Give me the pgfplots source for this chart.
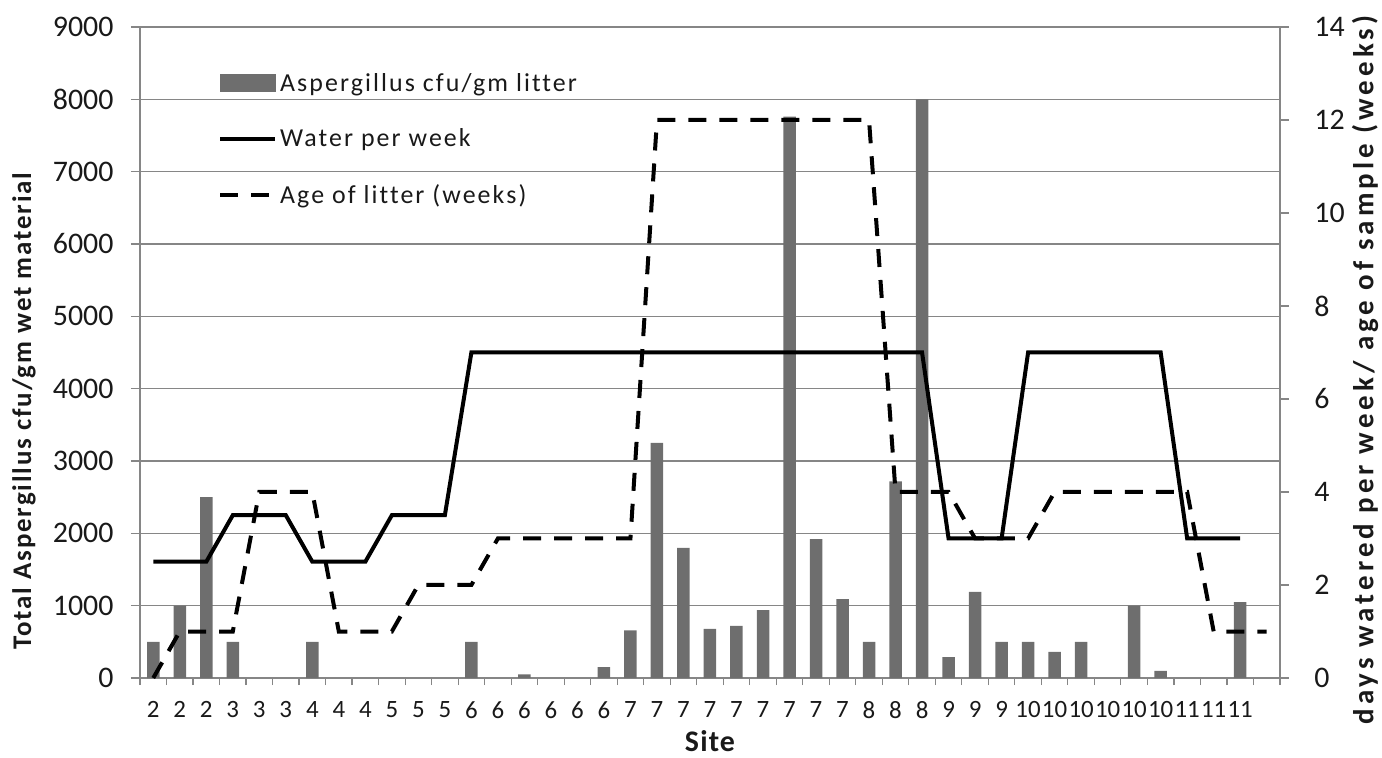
\documentclass[border=0pt]{standalone}
\usepackage{pgfplots}
\pgfplotsset{compat=1.18}
\usepackage{fontspec}
\setmainfont{Carlito}
\newfontfamily\legfont[LetterSpace=8,Ligatures=NoCommon]{Carlito}
\newfontfamily\lablfont[LetterSpace=7]{Carlito}
\newfontfamily\labrfont[LetterSpace=14]{Carlito}
\newfontfamily\sitefont[LetterSpace=4]{Carlito}
\definecolor{bargray}{RGB}{110,110,110}
\definecolor{gridgray}{RGB}{134,134,134}
\definecolor{txt}{RGB}{25,25,25}
\pgfplotsset{
  linelegend/.style={legend image code/.code={\draw[##1] (0bp,0bp) -- (55bp,0bp);}},
  barlegend/.style={legend image code/.code={\fill[bargray] (0bp,-8.5bp) rectangle (55bp,8.5bp);}},
}

\pgfplotstableread{
x y
0 500
1 1000
2 2500
3 500
6 500
12 500
14 50
17 150
18 660
19 3250
20 1800
21 680
22 720
23 940
24 7760
25 1920
26 1090
27 500
28 2720
29 8000
30 290
31 1190
32 500
33 500
34 360
35 500
37 1000
38 100
41 1050
}\bars

\begin{document}
\begin{tikzpicture}
\path[use as bounding box] (-140bp,-80bp) rectangle (1242bp,678bp);
\begin{axis}[
 at={(0,0)}, anchor=south west,
 scale only axis, width=1140bp, height=651bp,
 xmin=-0.5, xmax=42.5, ymin=0, ymax=9000,
 axis y line*=left, axis x line*=bottom,
 axis line style={gridgray, line width=1.2bp},
 every tick/.style={gridgray, line width=1.2bp},
 tick align=outside,
 ytick={0,1000,...,9000},
 major tick length=9bp,
 minor tick length=7bp,
 ymajorgrids, grid style={gridgray, line width=1.2bp},
 xtick={0,...,42},
 xticklabels={2,2,2,3,3,3,4,4,4,5,5,5,6,6,6,6,6,6,7,7,7,7,7,7,7,7,7,8,8,8,9,9,9,10,10,10,10,10,10,11,11,11,{}},
 minor xtick={-0.5,0.5,...,42.5},
 major x tick style={draw=none},
 /pgf/number format/1000 sep={},
 /pgf/number format/assume math mode=true,
 yticklabel style={font=\fontsize{30}{32}\selectfont, text=txt, xshift=-14bp},
 xticklabel style={font=\fontsize{25}{27}\selectfont, text=txt, yshift=-11bp},
 xlabel={\sitefont\bfseries Site},
 xlabel style={font=\fontsize{30}{32}\selectfont, text=txt, at={(axis description cs:0.5,-0.1125)}, anchor=base, inner sep=0pt},
 ylabel={\lablfont\bfseries Total Aspergillus cfu/gm wet material},
 ylabel style={font=\fontsize{27}{29}\selectfont, text=txt, at={(axis description cs:-0.1018,0.41)}, anchor=center},
]
\addplot[ybar, bar width=12.5bp, fill=bargray, draw=none] table[x=x,y=y] {\bars};
\end{axis}
\begin{axis}[
 at={(0,0)}, anchor=south west,
 scale only axis, width=1140bp, height=651bp,
 xmin=-0.5, xmax=42.5, ymin=0, ymax=14,
 axis y line*=right, axis x line=none,
 axis line style={gridgray, line width=1.2bp},
 every tick/.style={gridgray, line width=1.2bp},
 tick align=outside,
 major tick length=9bp,
 ytick={0,2,...,14},
 /pgf/number format/assume math mode=true,
 yticklabel style={font=\fontsize{30}{32}\selectfont, text=txt, xshift=22bp},
 ylabel={\labrfont\bfseries days watered per week/ age of sample (weeks)},
 ylabel style={font=\fontsize{29}{31}\selectfont, text=txt, at={(axis description cs:1.0746,0.473)}, anchor=center},
 legend style={draw=none, fill=none, at={(axis description cs:0.0684,0.929)}, anchor=north west,
   font=\fontsize{26}{28}\selectfont\legfont, text=txt, row sep=36bp, inner sep=0pt,
   nodes={inner sep=0pt}},
 legend cell align=left,
 /tikz/every odd column/.append style={column sep=3bp},
]
\addlegendimage{barlegend}
\addlegendentry{Aspergillus cfu/gm litter}
\addplot[black, line width=4bp, linelegend] coordinates {
(0,2.5) (1,2.5) (2,2.5) (3,3.5) (4,3.5) (5,3.5) (6,2.5) (7,2.5) (8,2.5) (9,3.5) (10,3.5) (11,3.5)
(12,7) (13,7) (14,7) (15,7) (16,7) (17,7) (18,7) (19,7) (20,7) (21,7) (22,7) (23,7) (24,7) (25,7)
(26,7) (27,7) (28,7) (29,7) (30,3) (31,3) (32,3) (33,7) (34,7) (35,7) (36,7) (37,7) (38,7)
(39,3) (40,3) (41,3)};
\addlegendentry{Water per week}
\addplot[black, line width=4bp, dash pattern=on 18bp off 13bp, linelegend] coordinates {
(0,0) (1,1) (2,1) (3,1) (4,4) (5,4) (6,4) (7,1) (8,1) (9,1) (10,2) (11,2) (12,2)
(13,3) (14,3) (15,3) (16,3) (17,3) (18,3) (19,12) (20,12) (21,12) (22,12) (23,12) (24,12)
(25,12) (26,12) (27,12) (28,4) (29,4) (30,4) (31,3) (32,3) (33,3) (34,4) (35,4) (36,4)
(37,4) (38,4) (39,4) (40,1) (41,1) (42,1)};
\addlegendentry{Age of litter (weeks)}
\end{axis}
\end{tikzpicture}
\end{document}
